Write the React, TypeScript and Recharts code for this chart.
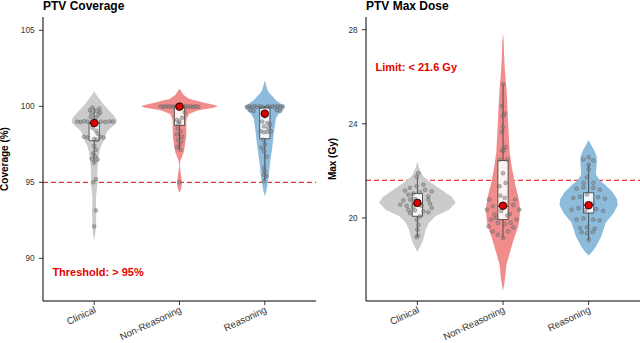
import React from 'react';
import { ScatterChart, Scatter, XAxis, YAxis, ReferenceLine } from 'recharts';

const FONT = "'Liberation Sans', Arial, Helvetica, sans-serif";

const categories = ['Clinical', 'Non-Reasoning', 'Reasoning'];
const categoryPositions = [1, 2, 3];
const groupColors = ['#cbcbcb', '#f18c8c', '#8dbbdc'];

const coverageTicks = [90, 95, 100, 105];
const coverageDomain = [87.19, 105.88];
const coverageThreshold = 95;

const doseTicks = [20, 24, 28];
const doseDomain = [16.47, 28.54];
const doseLimit = 21.6;

// violin outlines: [value, half width in category units]
const coverageViolinClinical = [
  [101.0, 0], [100.8, 0.02], [100.5, 0.06], [100.2, 0.1], [100.0, 0.13], [99.7, 0.18], [99.4, 0.23], [99.1, 0.265],
  [98.9, 0.26], [98.7, 0.22], [98.4, 0.16], [98.1, 0.13], [97.8, 0.12], [97.4, 0.08], [97.0, 0.06], [96.5, 0.05],
  [96.0, 0.04], [95.5, 0.035], [95.0, 0.04], [94.5, 0.03], [94.0, 0.02], [93.0, 0.025], [92.0, 0.02], [91.5, 0.01], [91.2, 0],
];
const coverageViolinNonReasoning = [
  [101.15, 0], [101.0, 0.02], [100.75, 0.05], [100.5, 0.11], [100.25, 0.28], [100.1, 0.4], [100.0, 0.45], [99.9, 0.4],
  [99.75, 0.22], [99.5, 0.11], [99.2, 0.085], [99.0, 0.08], [98.5, 0.08], [98.0, 0.078], [97.5, 0.065], [97.0, 0.05],
  [96.7, 0.03], [96.4, 0.01], [96.1, 0.003], [95.8, 0.01], [95.4, 0.02], [95.0, 0.03], [94.6, 0.02], [94.3, 0],
];
const coverageViolinReasoning = [
  [101.7, 0], [101.4, 0.015], [101.1, 0.03], [100.9, 0.05], [100.6, 0.1], [100.4, 0.13], [100.2, 0.18], [100.0, 0.23],
  [99.8, 0.22], [99.5, 0.16], [99.2, 0.13], [98.7, 0.117], [98.2, 0.105], [97.6, 0.094], [97.0, 0.08], [96.5, 0.066],
  [96.0, 0.056], [95.5, 0.048], [95.0, 0.035], [94.5, 0.02], [94.1, 0],
];
const doseViolinClinical = [
  [22.4, 0], [22.2, 0.015], [22.0, 0.035], [21.77, 0.068], [21.5, 0.16], [21.2, 0.28], [20.9, 0.4], [20.65, 0.447],
  [20.35, 0.37], [20.07, 0.21], [19.8, 0.136], [19.5, 0.097], [19.2, 0.078], [18.9, 0.05], [18.7, 0.02], [18.55, 0],
];
const doseViolinNonReasoning = [
  [27.85, 0], [27.5, 0.008], [27.0, 0.012], [26.5, 0.018], [26.0, 0.028], [25.5, 0.04], [25.0, 0.048], [24.2, 0.058],
  [23.5, 0.068], [22.8, 0.078], [22.1, 0.105], [21.4, 0.144], [20.8, 0.185], [20.35, 0.2], [19.9, 0.19], [19.6, 0.175],
  [19.1, 0.126], [18.5, 0.078], [18.0, 0.04], [17.4, 0.023], [17.1, 0.01], [16.9, 0],
];
const doseViolinReasoning = [
  [23.3, 0], [23.1, 0.03], [22.9, 0.062], [22.6, 0.095], [22.4, 0.097], [22.1, 0.09], [21.85, 0.085], [21.6, 0.13],
  [21.4, 0.195], [21.1, 0.28], [20.8, 0.33], [20.55, 0.34], [20.2, 0.29], [19.8, 0.2], [19.2, 0.146], [18.8, 0.088],
  [18.6, 0.05], [18.4, 0],
];

// box plot statistics
const coverageLow = [96.3, 97.15, 95.08];
const coverageQ1 = [97.74, 98.75, 97.87];
const coverageMedian = [98.9, 100.0, 99.9];
const coverageQ3 = [98.95, 100.0, 99.96];
const coverageHigh = [99.9, 100.0, 100.0];
const coverageMean = [98.9, 99.98, 99.52];

const doseLow = [19.2, 19.15, 19.07];
const doseQ1 = [20.07, 19.93, 20.21];
const doseMedian = [20.6, 20.5, 20.55];
const doseQ3 = [21.04, 22.44, 21.07];
const doseHigh = [21.75, 25.68, 22.27];
const doseMean = [20.64, 20.52, 20.54];

// jittered observations: [horizontal jitter (category units), value]
const coveragePointsClinical = [
  [-0.02, 99.92], [0.06, 99.85], [-0.05, 99.75], [0.03, 99.7], [0.07, 99.6], [-0.03, 99.55], [0.05, 99.45], [-0.04, 99.3], [0.02, 99.25],
  [-0.2, 99.0], [-0.16, 98.97], [-0.12, 99.02], [-0.08, 99.0], [0.08, 99.0], [0.13, 98.97], [0.18, 99.01], [0.22, 99.0],
  [-0.02, 98.6], [0.02, 98.4], [0.04, 98.2],
  [-0.12, 98.0], [-0.08, 97.95], [0.07, 98.0], [0.11, 97.95], [0.0, 97.85], [0.03, 97.8],
  [0.0, 97.4], [0.02, 97.15], [-0.01, 96.9], [0.01, 96.7], [-0.03, 96.55], [0.04, 96.5], [0.0, 96.3],
  [0.02, 95.2], [-0.01, 95.0], [0.02, 93.15], [0.0, 92.1],
];
const coveragePointsNonReasoning = [
  [-0.22, 100], [-0.19, 99.97], [-0.16, 100], [-0.13, 99.97], [-0.1, 100], [-0.07, 99.97], [-0.04, 100], [0.04, 99.97],
  [0.07, 100], [0.1, 99.97], [0.13, 100], [0.16, 99.97], [0.19, 100], [0.22, 99.97], [0.0, 100], [0.02, 99.95],
  [0.06, 99.6], [0.03, 99.25], [-0.03, 99.1], [0.0, 99.0], [-0.01, 98.85],
  [-0.02, 98.55], [0.01, 98.35], [-0.03, 98.15], [0.03, 98.0], [-0.02, 97.8], [0.02, 97.7], [0.0, 97.5], [-0.03, 97.3], [0.01, 97.15],
  [0.0, 95.0],
];
const coveragePointsReasoning = [
  [-0.21, 99.97], [-0.18, 100], [-0.15, 99.97], [-0.12, 100], [-0.09, 99.97], [-0.06, 100], [-0.03, 99.97], [0.03, 100],
  [0.06, 99.97], [0.09, 100], [0.12, 99.97], [0.15, 100], [0.18, 99.97], [0.21, 100],
  [-0.17, 99.75], [-0.13, 99.7], [0.14, 99.75], [0.18, 99.7],
  [0.0, 99.35], [-0.03, 99.0], [0.03, 98.9], [0.06, 98.8], [-0.01, 98.68], [0.04, 98.57], [-0.05, 98.36], [-0.01, 98.3], [0.03, 98.32], [0.07, 98.36],
  [-0.02, 97.8], [0.0, 97.5], [-0.04, 97.28], [-0.01, 97.06], [0.02, 96.7],
  [-0.01, 95.95], [0.0, 95.73], [-0.01, 95.5], [0.02, 95.4], [-0.01, 95.08],
];
const dosePointsClinical = [
  [-0.008, 21.75], [0.01, 21.9], [-0.086, 21.28], [-0.144, 21.16], [-0.008, 21.35], [0.07, 21.42], [0.09, 21.2], [0.03, 21.09],
  [-0.105, 20.99], [-0.047, 21.04], [0.167, 21.13], [0.128, 20.92],
  [-0.163, 20.75], [-0.086, 20.78], [-0.027, 20.81], [0.128, 20.78], [0.148, 20.61], [-0.2, 20.57], [-0.124, 20.52],
  [-0.047, 20.47], [0.05, 20.52], [0.167, 20.43],
  [-0.105, 20.35], [-0.027, 20.32], [0.07, 20.28], [0.128, 20.24], [-0.086, 20.21], [0.03, 20.07], [-0.008, 19.93],
  [0.012, 19.71], [0.0, 19.5], [0.005, 19.25], [-0.01, 19.19],
];
const dosePointsNonReasoning = [
  [0.0, 25.68], [-0.01, 24.76], [0.0, 24.33], [0.02, 24.43], [-0.01, 23.65], [0.0, 23.86], [-0.01, 22.87], [0.01, 22.87],
  [0.03, 23.01], [-0.04, 22.48], [0.05, 22.48],
  [0.0, 21.9], [0.03, 21.49], [-0.04, 21.35], [0.02, 20.85], [-0.03, 20.95],
  [-0.16, 20.78], [0.14, 20.78], [-0.19, 20.35], [0.19, 20.35], [-0.12, 20.5], [0.12, 20.55], [-0.1, 20.14], [0.08, 20.16],
  [-0.14, 19.93], [0.16, 19.93], [-0.17, 19.64], [-0.06, 19.79], [0.02, 19.75], [0.12, 19.6], [-0.12, 19.43], [0.06, 19.43],
  [-0.06, 19.29], [0.0, 19.15], [-0.08, 20.0], [0.05, 20.1], [-0.02, 20.3], [0.09, 19.8],
];
const dosePointsReasoning = [
  [-0.062, 22.48], [0.0, 22.58], [0.054, 22.44], [0.0, 22.27], [0.0, 22.06], [-0.02, 21.72], [-0.06, 21.49], [0.055, 21.49],
  [-0.14, 21.25], [-0.06, 21.3], [0.055, 21.28], [0.13, 21.2],
  [-0.18, 20.85], [-0.1, 20.9], [0.11, 20.88], [0.19, 20.82], [-0.02, 21.0],
  [-0.2, 20.35], [-0.12, 20.42], [-0.04, 20.33], [0.09, 20.38], [0.17, 20.3], [0.03, 20.6],
  [-0.14, 19.93], [-0.06, 19.98], [0.055, 19.93], [0.13, 19.9],
  [-0.1, 19.57], [-0.02, 19.6], [0.07, 19.55], [-0.08, 19.39], [-0.02, 19.35], [0.05, 19.4], [0.0, 19.07],
];

const BOX_HALF = 0.06;

function violinOutline(pos: number, profile: number[][]) {
  const asc = [...profile].sort((a, b) => a[0] - b[0]);
  const right = asc.map(([v, w]) => ({ x: pos + w, y: v }));
  const left = [...asc].reverse().map(([v, w]) => ({ x: pos - w, y: v }));
  return [...right, ...left];
}

const noShape = () => <g />;

const polygonLine = (fill: string, stroke: string, sw: number, fillOpacity = 1) => (p: any) => {
  const pts = (p.points || []).filter((q: any) => q.x != null && q.y != null);
  if (!pts.length) return <g />;
  const d = 'M' + pts.map((q: any) => `${q.x},${q.y}`).join('L') + 'Z';
  return <path d={d} fill={fill} fillOpacity={fillOpacity} stroke={stroke} strokeWidth={sw} />;
};

const segmentLine = (stroke: string, sw: number) => (p: any) => {
  const pts = (p.points || []).filter((q: any) => q.x != null && q.y != null);
  let d = '';
  for (let i = 0; i + 1 < pts.length; i += 2) {
    d += `M${pts[i].x},${pts[i].y}L${pts[i + 1].x},${pts[i + 1].y}`;
  }
  return <path d={d} fill="none" stroke={stroke} strokeWidth={sw} />;
};

const pointShape = (p: any) => (
  <circle cx={p.cx} cy={p.cy} r={1.9} fill="#808080" fillOpacity={0.5} stroke="#505050" strokeOpacity={0.6} strokeWidth={0.6} />
);
const meanShape = (p: any) => (
  <circle cx={p.cx} cy={p.cy} r={3.8} fill="#dd0000" stroke="#000000" strokeWidth={0.8} />
);

const XTick = (props: any) => {
  const { x, y, payload } = props;
  const label = categories[Math.round(payload.value) - 1] ?? '';
  const ax = x + 2.6;
  const ay = y + 5;
  return (
    <text x={ax} y={ay} textAnchor="end" fontSize={9.6} fontFamily={FONT} fill="#333333" transform={`rotate(-25, ${ax}, ${ay})`}>
      {label}
    </text>
  );
};

type PanelProps = {
  left: number;
  yAxisWidth: number;
  rightMargin: number;
  domain: number[];
  ticks: number[];
  violins: number[][][];
  lows: number[];
  q1s: number[];
  meds: number[];
  q3s: number[];
  highs: number[];
  means: number[];
  points: number[][][];
  refY: number;
  note: string;
  noteX: number;
  noteY: number;
};

function Panel(props: PanelProps) {
  const { left, yAxisWidth, rightMargin, domain, ticks, violins, lows, q1s, meds, q3s, highs, means, points, refY, note, noteX, noteY } = props;
  return (
    <div style={{ position: 'absolute', left, top: 0 }}>
      <ScatterChart width={320} height={343} margin={{ top: 17, right: rightMargin, bottom: 0, left: 0 }} style={{ overflow: 'visible' }}>
        <XAxis
          type="number"
          dataKey="x"
          domain={[0.4, 3.6]}
          ticks={categoryPositions}
          interval={0}
          height={42}
          tickSize={4}
          axisLine={{ stroke: '#000000', strokeWidth: 1 }}
          tickLine={{ stroke: '#333333' }}
          tick={XTick}
          allowDataOverflow
        />
        <YAxis
          type="number"
          dataKey="y"
          domain={domain}
          ticks={ticks}
          width={yAxisWidth}
          tickSize={4}
          tickMargin={4.5}
          axisLine={{ stroke: '#000000', strokeWidth: 1 }}
          tickLine={{ stroke: '#333333' }}
          tick={{ fill: '#333333', fontSize: 8.2, fontFamily: FONT }}
          allowDataOverflow
        />
        {violins.map((profile, i) => (
          <Scatter
            key={'violin' + i}
            data={violinOutline(categoryPositions[i], profile)}
            fill={groupColors[i]}
            line={polygonLine(groupColors[i], 'none', 0)}
            shape={noShape}
            isAnimationActive={false}
          />
        ))}
        {categoryPositions.map((pos, i) => (
          <Scatter
            key={'whisker' + i}
            data={[
              { x: pos, y: lows[i] },
              { x: pos, y: q1s[i] },
              { x: pos, y: q3s[i] },
              { x: pos, y: highs[i] },
            ]}
            fill="#333333"
            line={segmentLine('#333333', 0.8)}
            shape={noShape}
            isAnimationActive={false}
          />
        ))}
        {categoryPositions.map((pos, i) => (
          <Scatter
            key={'box' + i}
            data={[
              { x: pos - BOX_HALF, y: q1s[i] },
              { x: pos + BOX_HALF, y: q1s[i] },
              { x: pos + BOX_HALF, y: q3s[i] },
              { x: pos - BOX_HALF, y: q3s[i] },
            ]}
            fill="#ffffff"
            line={polygonLine('#ffffff', '#333333', 0.8, 0.88)}
            shape={noShape}
            isAnimationActive={false}
          />
        ))}
        {categoryPositions.map((pos, i) => (
          <Scatter
            key={'median' + i}
            data={[
              { x: pos - BOX_HALF, y: meds[i] },
              { x: pos + BOX_HALF, y: meds[i] },
            ]}
            fill="#333333"
            line={segmentLine('#333333', 1)}
            shape={noShape}
            isAnimationActive={false}
          />
        ))}
        {points.map((grp, i) => (
          <Scatter
            key={'pts' + i}
            data={grp.map(([dx, v]) => ({ x: categoryPositions[i] + dx, y: v }))}
            fill="#808080"
            shape={pointShape}
            isAnimationActive={false}
          />
        ))}
        <ReferenceLine y={refY} stroke="#e60000" strokeDasharray="5 3" strokeWidth={1} />
        <Scatter
          data={categoryPositions.map((pos, i) => ({ x: pos, y: means[i] }))}
          fill="#dd0000"
          shape={meanShape}
          isAnimationActive={false}
        />
        <Scatter
          data={[{ x: noteX, y: noteY }]}
          fill="#e60000"
          shape={(p: any) => (
            <text x={p.cx} y={p.cy} fill="#e60000" fontWeight="bold" fontSize={11} fontFamily={FONT}>
              {note}
            </text>
          )}
          isAnimationActive={false}
        />
      </ScatterChart>
    </div>
  );
}

const titleStyle: React.CSSProperties = {
  position: 'absolute',
  top: 0,
  fontFamily: FONT,
  fontWeight: 'bold',
  fontSize: 12,
  lineHeight: '13px',
  whiteSpace: 'nowrap',
  color: '#000',
};

const yTitleStyle = (left: number): React.CSSProperties => ({
  position: 'absolute',
  left,
  top: 159,
  transform: 'translate(-50%, -50%) rotate(-90deg)',
  fontFamily: FONT,
  fontWeight: 'bold',
  fontSize: 10,
  lineHeight: '12px',
  whiteSpace: 'nowrap',
  color: '#000',
});

export default function App() {
  return (
    <div style={{ position: 'absolute', left: 0, top: 0, width: 640, height: 343, background: '#fff' }}>
      <Panel
        left={0}
        yAxisWidth={43}
        rightMargin={4}
        domain={coverageDomain}
        ticks={coverageTicks}
        violins={[coverageViolinClinical, coverageViolinNonReasoning, coverageViolinReasoning]}
        lows={coverageLow}
        q1s={coverageQ1}
        meds={coverageMedian}
        q3s={coverageQ3}
        highs={coverageHigh}
        means={coverageMean}
        points={[coveragePointsClinical, coveragePointsNonReasoning, coveragePointsReasoning]}
        refY={coverageThreshold}
        note="Threshold: > 95%"
        noteX={0.51}
        noteY={88.86}
      />
      <Panel
        left={320}
        yAxisWidth={46}
        rightMargin={0}
        domain={doseDomain}
        ticks={doseTicks}
        violins={[doseViolinClinical, doseViolinNonReasoning, doseViolinReasoning]}
        lows={doseLow}
        q1s={doseQ1}
        meds={doseMedian}
        q3s={doseQ3}
        highs={doseHigh}
        means={doseMean}
        points={[dosePointsClinical, dosePointsNonReasoning, dosePointsReasoning]}
        refY={doseLimit}
        note="Limit: < 21.6 Gy"
        noteX={0.51}
        noteY={26.23}
      />
      <div style={{ ...titleStyle, left: 43 }}>PTV Coverage</div>
      <div style={{ ...titleStyle, left: 366 }}>PTV Max Dose</div>
      <div style={yTitleStyle(5)}>Coverage (%)</div>
      <div style={yTitleStyle(333)}>Max (Gy)</div>
    </div>
  );
}
